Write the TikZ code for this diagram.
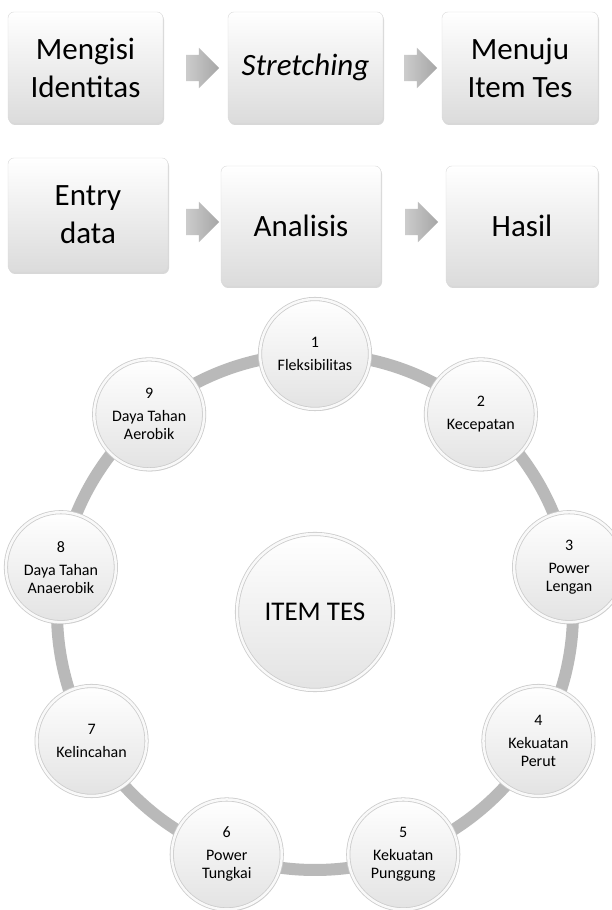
\documentclass[tikz,border=0pt]{standalone}
\usepackage{fontspec}
\setmainfont{Carlito}
\usetikzlibrary{shapes.arrows, shadows, positioning}

\tikzset{
  stepbox/.style={rectangle, rounded corners=6pt, draw=gray!30, top color=white, bottom color=gray!28,
    drop shadow={opacity=0.3, shadow xshift=1pt, shadow yshift=-2pt},
    align=center, inner sep=0pt, font=\fontsize{31}{38}\selectfont},
  flowarrow/.style={single arrow, draw=none, left color=gray!40, right color=gray!70,
    minimum height=33pt, inner xsep=0pt, inner ysep=13pt,
    single arrow head extend=7pt, single arrow head indent=0pt},
  ballnode/.style={circle, minimum size=110pt, inner sep=0pt, draw=gray!40, line width=0.8pt,
    double=gray!5, double distance=2.5pt,
    top color=white, bottom color=gray!22, drop shadow={opacity=0.3, shadow xshift=1pt, shadow yshift=-2pt},
    align=center, font=\fontsize{16}{18}\selectfont},
  ring/.style={draw=gray!55, line width=12pt}
}

\begin{document}
\begin{tikzpicture}[x=1pt, y=1pt]
  \useasboundingbox (0,0) rectangle (612,910);
  \fill[white] (0,0) rectangle (612,910);

  % first row of steps
  \node[stepbox, minimum width=155pt, minimum height=111pt] (identitas) at (85.5,842.5) {Mengisi\\Identitas};
  \node[stepbox, minimum width=155pt, minimum height=111pt] (stretch) at (305.5,842.5) {\itshape Stretching};
  \node[stepbox, minimum width=156pt, minimum height=111pt] (menuju) at (520,842.5) {Menuju\\Item Tes};
  \node[flowarrow] (a1) at (196,842) {};
  \node[flowarrow] (a2) at (414,842) {};

  % second row of steps
  \node[stepbox, minimum width=160pt, minimum height=114pt] (entry) at (88,695) {Entry\\data};
  \node[stepbox, minimum width=160pt, minimum height=120pt] (analisis) at (301,684) {Analisis};
  \node[stepbox, minimum width=152pt, minimum height=120pt] (hasil) at (522,684) {Hasil};
  \node[flowarrow] (a3) at (196,688) {};
  \node[flowarrow] (a4) at (415,688) {};

  % ring of test items
  \begin{scope}[shift={(315,298)}]
    \draw[ring] (0,0) circle (258);
    \node[ballnode, minimum size=156pt, font=\fontsize{27}{30}\selectfont] (hub) at (0,0) {ITEM TES};
    \foreach \i/\txt in {1/Fleksibilitas, 2/Kecepatan, 3/{Power\\Lengan}, 4/{Kekuatan\\Perut},
        5/{Kekuatan\\Punggung}, 6/{Power\\Tungkai}, 7/Kelincahan,
        8/{Daya Tahan\\Anaerobik}, 9/{Daya Tahan\\Aerobik}}
      \node[ballnode] (item\i) at ({90-40*(\i-1)}:258) {\i\\[5pt]\txt};
  \end{scope}
\end{tikzpicture}
\end{document}
